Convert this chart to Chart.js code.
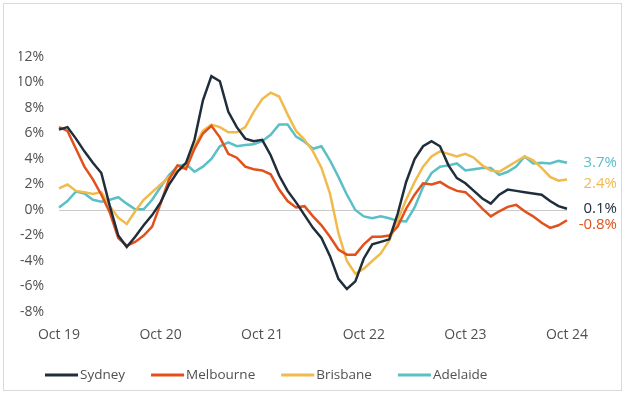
<!DOCTYPE html>
<html>
<head>
<meta charset="utf-8">
<script src="https://cdn.jsdelivr.net/npm/chart.js@4.4.1/dist/chart.umd.min.js"></script>
<style>
  html, body { margin: 0; padding: 0; background: #fff; }
  #wrap { position: relative; width: 626px; height: 394px; }
  #frame { position: absolute; left: 3px; top: 3px; width: 617px; height: 386px; border: 1px solid #d9d9d9; pointer-events: none; }
  canvas { position: absolute; left: 0; top: 0; }
</style>
</head>
<body>
<div id="wrap">
  <canvas id="chart" width="626" height="394"></canvas>
  <div id="frame"></div>
</div>
<script>
const months = [
  "Oct 19","Nov 19","Dec 19","Jan 20","Feb 20","Mar 20","Apr 20","May 20","Jun 20","Jul 20","Aug 20","Sep 20",
  "Oct 20","Nov 20","Dec 20","Jan 21","Feb 21","Mar 21","Apr 21","May 21","Jun 21","Jul 21","Aug 21","Sep 21",
  "Oct 21","Nov 21","Dec 21","Jan 22","Feb 22","Mar 22","Apr 22","May 22","Jun 22","Jul 22","Aug 22","Sep 22",
  "Oct 22","Nov 22","Dec 22","Jan 23","Feb 23","Mar 23","Apr 23","May 23","Jun 23","Jul 23","Aug 23","Sep 23",
  "Oct 23","Nov 23","Dec 23","Jan 24","Feb 24","Mar 24","Apr 24","May 24","Jun 24","Jul 24","Aug 24","Sep 24",
  "Oct 24"
];
const tickMonths = ["Oct 19", "Oct 20", "Oct 21", "Oct 22", "Oct 23", "Oct 24"];

const sydney = [6.3, 6.5, 5.6, 4.6, 3.7, 2.9, 0.3, -2.0, -2.9, -2.1, -1.2, -0.4, 0.6, 2.0, 3.0, 3.7, 5.5, 8.6, 10.5, 10.1,
  7.7, 6.5, 5.6, 5.4, 5.5, 4.3, 2.7, 1.5, 0.6, -0.4, -1.4, -2.2, -3.6, -5.4, -6.2, -5.6, -3.8, -2.7, -2.5, -2.3,
  -0.3, 2.2, 4.0, 5.0, 5.4, 5.0, 3.5, 2.5, 2.1, 1.5, 0.9, 0.5, 1.2, 1.6, 1.5, 1.4, 1.3, 1.2, 0.7, 0.3, 0.1];
const melbourne = [6.5, 6.2, 4.8, 3.4, 2.4, 1.2, -0.2, -2.2, -2.8, -2.5, -2.0, -1.3, 0.5, 2.4, 3.5, 3.2, 4.8, 6.0, 6.6, 5.7,
  4.4, 4.1, 3.4, 3.2, 3.1, 2.8, 1.6, 0.7, 0.2, 0.3, -0.5, -1.2, -2.1, -3.1, -3.5, -3.5, -2.7, -2.1, -2.1, -2.0,
  -1.3, 0.1, 1.2, 2.1, 2.0, 2.2, 1.8, 1.5, 1.4, 0.8, 0.1, -0.5, -0.1, 0.25, 0.4, -0.1, -0.5, -1.0, -1.4, -1.2, -0.8];
const brisbane = [1.7, 2.0, 1.5, 1.4, 1.25, 1.4, 0.3, -0.6, -1.1, -0.1, 0.8, 1.4, 2.0, 2.6, 3.1, 3.4, 5.0, 6.2, 6.7, 6.5,
  6.1, 6.1, 6.5, 7.7, 8.7, 9.2, 8.9, 7.5, 6.2, 5.5, 4.6, 3.3, 1.3, -1.8, -4.0, -5.0, -4.6, -4.0, -3.4, -2.4,
  -0.8, 0.8, 2.2, 3.4, 4.2, 4.6, 4.4, 4.2, 4.4, 4.1, 3.5, 3.1, 3.0, 3.4, 3.8, 4.2, 3.9, 3.3, 2.6, 2.3, 2.4];
const adelaide = [0.2, 0.7, 1.45, 1.3, 0.8, 0.65, 0.8, 1.0, 0.5, 0.05, 0.05, 0.8, 1.8, 2.75, 3.45, 3.6, 3.0, 3.4, 4.0, 5.0,
  5.3, 5.0, 5.1, 5.15, 5.4, 5.9, 6.7, 6.7, 5.75, 5.35, 4.8, 5.0, 3.9, 2.6, 1.2, 0.0, -0.5, -0.65, -0.5, -0.65,
  -0.85, -0.9, 0.2, 1.8, 2.9, 3.4, 3.5, 3.65, 3.1, 3.2, 3.3, 3.3, 2.75, 3.0, 3.4, 4.2, 3.65, 3.7, 3.65, 3.85, 3.7];

const cities = ["Sydney", "Melbourne", "Brisbane", "Adelaide"];
const colors = ["#202e3c", "#e2501c", "#f0ba4c", "#5bbfc6"];
const series = [sydney, melbourne, brisbane, adelaide];

const FONT = "'Open Sans', 'DejaVu Sans', sans-serif";

// end-of-line value labels on the right
const endLabels = {
  id: "endLabels",
  afterDatasetsDraw(chart) {
    const ctx = chart.ctx;
    const y = chart.scales.y;
    const nudge = [0, 5, 4, 0];
    ctx.save();
    ctx.font = "500 15px " + FONT;
    ctx.textAlign = "right";
    ctx.textBaseline = "middle";
    chart.data.datasets.forEach((ds, i) => {
      const v = ds.data[ds.data.length - 1];
      ctx.fillStyle = ds.borderColor;
      ctx.fillText(v.toFixed(1) + "%", 617, y.getPixelForValue(v) + nudge[i]);
    });
    ctx.restore();
  }
};

// legend row under the axis
const lineLegend = {
  id: "lineLegend",
  afterDraw(chart) {
    const ctx = chart.ctx;
    ctx.save();
    ctx.font = "13.5px " + FONT;
    ctx.textBaseline = "middle";
    let x = 45;
    const yy = 375;
    chart.data.datasets.forEach(ds => {
      ctx.strokeStyle = ds.borderColor;
      ctx.lineWidth = 3;
      ctx.beginPath();
      ctx.moveTo(x, yy);
      ctx.lineTo(x + 33, yy);
      ctx.stroke();
      ctx.fillStyle = "#505050";
      ctx.fillText(ds.label, x + 35, yy);
      x += 35 + ctx.measureText(ds.label).width + 26;
    });
    ctx.restore();
  }
};

new Chart(document.getElementById("chart"), {
  type: "line",
  data: {
    labels: months,
    datasets: cities.map((c, i) => ({
      label: c,
      data: series[i],
      borderColor: colors[i],
      backgroundColor: colors[i],
      borderWidth: 2.5,
      pointRadius: 0,
      tension: 0,
      fill: false
    }))
  },
  options: {
    responsive: false,
    animation: false,
    layout: { padding: { left: 19, right: 59, top: 57, bottom: 46 } },
    plugins: {
      legend: { display: false },
      tooltip: { enabled: false }
    },
    scales: {
      x: {
        offset: false,
        grid: { display: false, drawTicks: false },
        border: { display: false },
        afterFit(s) { s.height = 36; },
        ticks: {
          autoSkip: false,
          maxRotation: 0,
          padding: 15,
          color: "#505050",
          font: { family: FONT, size: 14 },
          callback(v, i) {
            const m = months[i];
            return tickMonths.includes(m) ? m : "";
          }
        }
      },
      y: {
        min: -8,
        max: 12,
        afterFit(s) { s.width = 40; },
        grid: {
          drawTicks: false,
          color: c => (c.tick && c.tick.value === 0 ? "#c9c9c9" : "rgba(0,0,0,0)"),
          lineWidth: 1
        },
        border: { display: false },
        ticks: {
          stepSize: 2,
          padding: 15,
          color: "#505050",
          font: { family: FONT, size: 14 },
          callback: v => v + "%"
        }
      }
    }
  },
  plugins: [endLabels, lineLegend]
});
</script>
</body>
</html>
